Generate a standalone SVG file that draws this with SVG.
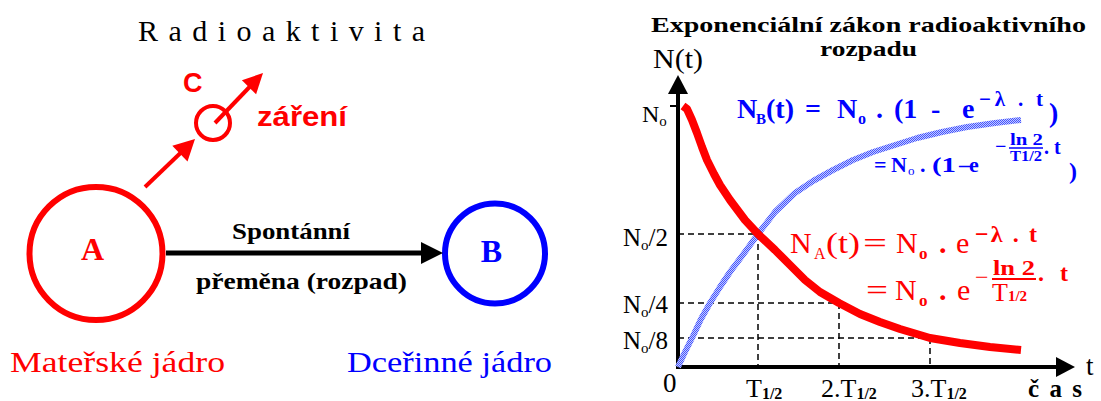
<svg xmlns="http://www.w3.org/2000/svg" width="1101" height="401" viewBox="0 0 1101 401">
<style>
.serif{font-family:"Liberation Serif","DejaVu Serif",serif}
.sans{font-family:"Liberation Sans","DejaVu Sans",sans-serif}
.red{fill:#ff0000}
.blue{fill:#0000ff}
.blk{fill:#000}
.b{font-weight:bold}
.dash{stroke:#000;stroke-width:1.5;stroke-dasharray:6 4;fill:none}
</style>
<defs>
<pattern id="dither" width="2" height="2" patternUnits="userSpaceOnUse">
<rect width="2" height="2" fill="#c4caff"/>
<rect width="1" height="1" fill="#4455ff"/>
<rect x="1" y="1" width="1" height="1" fill="#4455ff"/>
</pattern>
</defs>
<rect width="1101" height="401" fill="#fff"/>

<g id="title-left">
<text class="serif blk" x="138" y="41" font-size="30" textLength="287" lengthAdjust="spacing">Radioaktivita</text>
</g>

<g id="node-A">
<circle cx="96" cy="253.5" r="66.5" fill="none" stroke="#ff0000" stroke-width="6"/>
<text class="serif red b" x="92.5" y="260" font-size="32" text-anchor="middle">A</text>
<text class="serif red" x="10" y="372" font-size="29" textLength="215" lengthAdjust="spacingAndGlyphs">Mateřské jádro</text>
</g>

<g id="node-B">
<circle cx="495" cy="253.5" r="50" fill="none" stroke="#0000ff" stroke-width="6"/>
<text class="serif blue b" x="491.5" y="262" font-size="32" text-anchor="middle">B</text>
<text class="serif blue" x="347" y="372" font-size="29" textLength="205" lengthAdjust="spacingAndGlyphs">Dceřinné jádro</text>
</g>

<g id="node-C">
<circle cx="213" cy="123" r="17" fill="none" stroke="#ff0000" stroke-width="4"/>
<text class="sans red b" x="183" y="92" font-size="27">C</text>
<text class="sans red b" x="257" y="126" font-size="28" textLength="90" lengthAdjust="spacingAndGlyphs">záření</text>
</g>

<g id="connectors">
<line x1="166" y1="253" x2="423" y2="253" stroke="#000" stroke-width="5"/>
<polygon points="443,253 421,242 421,264" fill="#000"/>
<text class="serif blk b" x="232" y="239" font-size="24" textLength="118" lengthAdjust="spacingAndGlyphs">Spontánní</text>
<text class="serif blk b" x="196" y="289" font-size="24" textLength="211" lengthAdjust="spacingAndGlyphs">přeměna (rozpad)</text>
<line x1="145" y1="187" x2="181" y2="152.5" stroke="#ff0000" stroke-width="4"/>
<polygon points="195,139 187.5,161.5 172.3,145.7" fill="#ff0000"/>
<line x1="215" y1="123" x2="250" y2="86.5" stroke="#ff0000" stroke-width="4"/>
<polygon points="263,73 256.1,94.3 241.9,80.3" fill="#ff0000"/>
</g>

<g id="chart">
<text class="serif blk b" x="651" y="32" font-size="22" textLength="435" lengthAdjust="spacingAndGlyphs">Exponenciální  zákon radioaktivního</text>
<text class="serif blk b" x="820" y="56" font-size="22" textLength="97" lengthAdjust="spacingAndGlyphs">rozpadu</text>

<path class="dash" d="M678 234H758M678 303H839M678 338H930M758 234V367M839 303V367M930 338V367"/>

<line x1="678" y1="369" x2="678" y2="92" stroke="#000" stroke-width="4"/>
<polygon points="678,75 668,94 688,94" fill="#000"/>
<line x1="676" y1="367" x2="1058" y2="367" stroke="#000" stroke-width="4"/>
<polygon points="1075,367 1056,357 1056,377" fill="#000"/>
<line x1="670" y1="106" x2="678" y2="106" stroke="#000" stroke-width="2"/>

<polyline fill="none" stroke="url(#dither)" stroke-width="6" stroke-linejoin="round" points="678,367 685,352 693,336 701,319 710,303 720,287 730,272 745,252 758,234 775,212 795,193 813,181 833,170 853,160 873,152 895,145 917,138 942,132 967,127 995,123 1021,120"/>
<polyline fill="none" stroke="#ff0000" stroke-width="8" stroke-linejoin="round" points="683,106 687,109 692,120 697,133 702,147 707,160 714,174 720,185 730,200 745,220 758,234 775,250 790,265 805,280 820,292 839,303 860,314 880,322 900,329 930,338 960,343 990,347 1021,350"/>

<text class="serif blk" x="653" y="68" font-size="28" textLength="50" lengthAdjust="spacingAndGlyphs">N(t)</text>
<text class="serif blk" x="642" y="122" font-size="24">N<tspan font-size="15" dy="4">o</tspan></text>
<text class="serif blk" x="668" y="246" font-size="25" text-anchor="end">N<tspan font-size="15" dy="4">o</tspan><tspan dy="-4">/2</tspan></text>
<text class="serif blk" x="668" y="313" font-size="25" text-anchor="end">N<tspan font-size="15" dy="4">o</tspan><tspan dy="-4">/4</tspan></text>
<text class="serif blk" x="668" y="349" font-size="25" text-anchor="end">N<tspan font-size="15" dy="4">o</tspan><tspan dy="-4">/8</tspan></text>
<text class="serif blk" x="663" y="392" font-size="27">0</text>
<text class="serif blk" x="1086" y="375" font-size="27">t</text>
<text class="serif blk" x="746" y="397" font-size="26">T<tspan font-size="16" class="b" dy="2">1/2</tspan></text>
<text class="serif blk" x="821" y="397" font-size="26">2.T<tspan font-size="16" class="b" dy="2">1/2</tspan></text>
<text class="serif blk" x="911" y="397" font-size="26">3.T<tspan font-size="16" class="b" dy="2">1/2</tspan></text>
<text class="serif blk b" x="1028" y="397" font-size="25" textLength="54" lengthAdjust="spacing">č a s</text>

<g class="serif blue b">
<text x="737" y="118" font-size="28">N</text>
<text x="756" y="124" font-size="15">B</text>
<text x="766" y="118" font-size="28">(t)</text>
<text x="805" y="118" font-size="28">=</text>
<text x="837" y="118" font-size="28">N</text>
<text x="858" y="124" font-size="16">o</text>
<text x="876" y="118" font-size="28">.</text>
<text x="894" y="118" font-size="28">(1</text>
<text x="931" y="118" font-size="28">-</text>
<text x="962" y="118" font-size="28">e</text>
<text x="979" y="106" font-size="21" textLength="64" lengthAdjust="spacing">−λ . t</text>
<text x="1049" y="122" font-size="28">)</text>

<text x="874" y="172" font-size="22">=</text>
<text x="891" y="172" font-size="22">N</text>
<text x="908" y="175" font-size="13" font-weight="normal">o</text>
<text x="920" y="172" font-size="22">.</text>
<text x="932" y="172" font-size="22" textLength="24" lengthAdjust="spacingAndGlyphs">(1</text>
<text x="959" y="172" font-size="22">–</text>
<text x="969" y="172" font-size="22">e</text>
<text x="995" y="153" font-size="20">−</text>
<text x="1010" y="145" font-size="16" textLength="33" lengthAdjust="spacingAndGlyphs">ln 2</text>
<line x1="1009" y1="148" x2="1043" y2="148" stroke="#0000ff" stroke-width="1.5"/>
<text x="1010" y="161" font-size="14" textLength="32" lengthAdjust="spacingAndGlyphs">T1/2</text>
<text x="1044" y="154" font-size="20">. t</text>
<text x="1069" y="179" font-size="24">)</text>
</g>

<g class="serif red">
<text x="790" y="253" font-size="30">N</text>
<text x="814" y="259" font-size="16">A</text>
<text x="826" y="253" font-size="30" textLength="34" lengthAdjust="spacingAndGlyphs">(t)</text>
<text x="863" y="253" font-size="30" textLength="24" lengthAdjust="spacingAndGlyphs">=</text>
<text x="896" y="253" font-size="30">N</text>
<text x="919" y="259" font-size="17" class="b">o</text>
<text x="939" y="253" font-size="30" class="b">.</text>
<text x="956" y="253" font-size="30">e</text>
<text x="975" y="242" font-size="24" class="b" textLength="62" lengthAdjust="spacing">−λ . t</text>

<text x="866" y="300" font-size="30" textLength="22" lengthAdjust="spacingAndGlyphs">=</text>
<text x="895" y="300" font-size="30">N</text>
<text x="919" y="306" font-size="17" class="b">o</text>
<text x="939" y="300" font-size="30" class="b">.</text>
<text x="957" y="300" font-size="30">e</text>
<text x="975" y="285" font-size="24">−</text>
<text x="993" y="275" font-size="21" class="b" textLength="42" lengthAdjust="spacingAndGlyphs">ln 2</text>
<line x1="992" y1="279" x2="1036" y2="279" stroke="#ff0000" stroke-width="2"/>
<text x="992" y="301" font-size="26">T<tspan font-size="15" class="b">1/2</tspan></text>
<text x="1038" y="281" font-size="24" class="b" textLength="30" lengthAdjust="spacing">. t</text>
</g>
</g>
</svg>
